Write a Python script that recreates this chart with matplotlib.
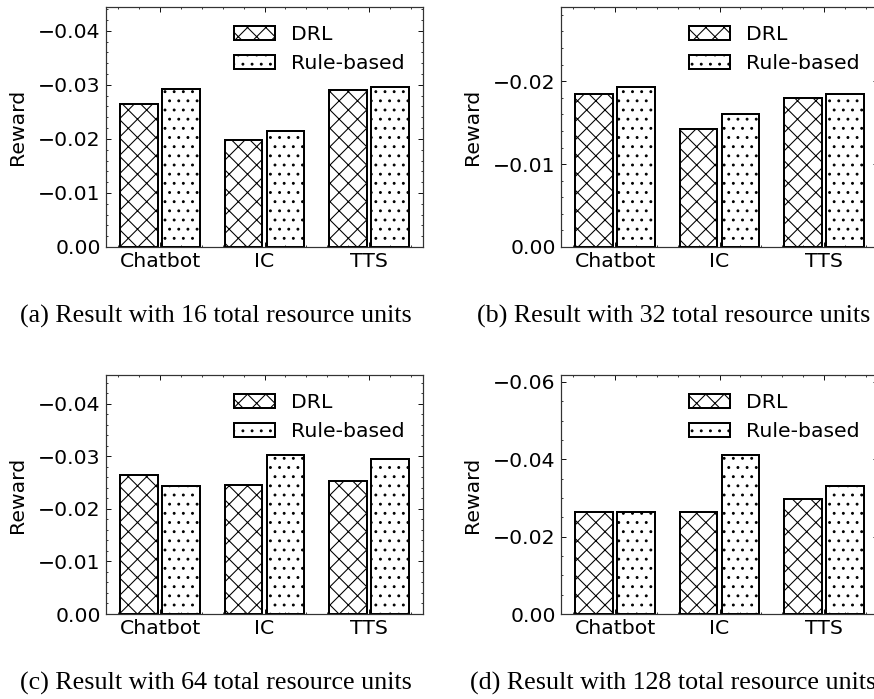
import numpy as np
import matplotlib
matplotlib.use("Agg")
import matplotlib.pyplot as plt
from matplotlib.ticker import MultipleLocator, AutoMinorLocator

categories = ["Chatbot", "IC", "TTS"]
series_names = ["DRL", "Rule-based"]

drl_16 = [-0.0264, -0.0198, -0.0291]
rule_16 = [-0.0292, -0.0214, -0.0296]
drl_32 = [-0.01845, -0.0142, -0.0180]
rule_32 = [-0.0193, -0.0161, -0.0185]
drl_64 = [-0.0264, -0.0246, -0.0253]
rule_64 = [-0.0244, -0.0303, -0.0294]
drl_128 = [-0.0265, -0.0263, -0.0297]
rule_128 = [-0.0265, -0.0412, -0.0330]

captions = [
    "(a) Result with 16 total resource units",
    "(b) Result with 32 total resource units",
    "(c) Result with 64 total resource units",
    "(d) Result with 128 total resource units",
]
major_steps = [0.01, 0.01, 0.01, 0.02]

DPI = 110
W, H = 874, 699
plt.rcParams.update({
    "font.family": "DejaVu Sans",
    "font.size": 13.3,
    "hatch.linewidth": 0.7,
    "axes.linewidth": 0.8,
    "xtick.direction": "in",
    "ytick.direction": "in",
    "xtick.top": True,
    "ytick.right": True,
    "xtick.minor.visible": True,
    "ytick.minor.visible": True,
    "xtick.major.size": 3,
    "ytick.major.size": 3,
    "xtick.minor.size": 1.5,
    "ytick.minor.size": 1.5,
    "xtick.major.width": 0.6,
    "ytick.major.width": 0.6,
    "xtick.minor.width": 0.5,
    "ytick.minor.width": 0.5,
})

fig = plt.figure(figsize=(W / DPI, H / DPI), dpi=DPI)

def px_rect(left, top, right, bottom):
    return [left / W, 1 - bottom / H, (right - left) / W, (bottom - top) / H]

rects = [
    px_rect(106, 7, 423, 247),
    px_rect(561, 7, 878, 247),
    px_rect(106, 375, 423, 614),
    px_rect(561, 375, 878, 614),
]
data = [(drl_16, rule_16), (drl_32, rule_32), (drl_64, rule_64), (drl_128, rule_128)]
cap_pos = [(216, 316), (674, 316), (216, 683), (673, 683)]

x = np.arange(len(categories))
width = 0.36
offset = 0.2
for i, (rect, (drl, rule)) in enumerate(zip(rects, data)):
    ax = fig.add_axes(rect)
    ax.bar(x - offset, drl, width, facecolor="white", edgecolor="black",
           linewidth=1.3, hatch="xx", label=series_names[0])
    ax.bar(x + offset, rule, width, facecolor="white", edgecolor="black",
           linewidth=1.3, hatch="..", label=series_names[1])
    lo = min(min(drl), min(rule))
    ax.set_ylim(0, lo * 1.5)
    ax.set_xticks(x)
    ax.set_xticklabels(categories)
    ax.yaxis.set_major_locator(MultipleLocator(major_steps[i]))
    ax.yaxis.set_minor_locator(AutoMinorLocator())
    ax.xaxis.set_minor_locator(AutoMinorLocator())
    ax.set_ylabel("Reward", labelpad=7)
    ax.legend(loc="upper right", frameon=False)
    for s in ax.spines.values():
        s.set_color("#333333")
    cx, cy = cap_pos[i]
    fig.text(cx / W, 1 - cy / H, captions[i], ha="center", va="center",
             family="Liberation Serif", fontsize=17)

fig.savefig("out.png", dpi=DPI)
